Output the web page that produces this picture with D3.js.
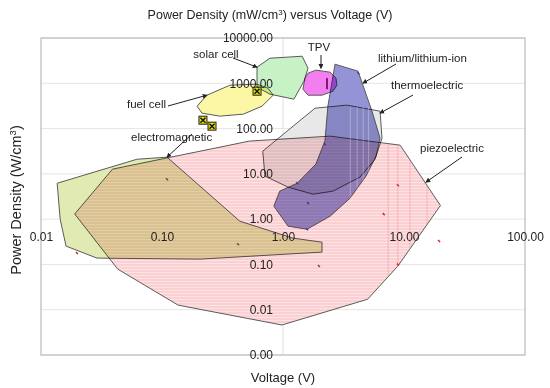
<!DOCTYPE html>
<html>
<head>
<meta charset="utf-8">
<script src="https://cdn.jsdelivr.net/npm/d3@7"></script>
<style>
body { margin: 0; background: #fff; }
text { font-family: "Liberation Sans", Arial, Helvetica, sans-serif; fill: #222; }
</style>
</head>
<body>
<div id="chart"></div>
<script>
// tick values
const xTicks = [0.01, 0.1, 1, 10, 100];
const yTicks = [0.001, 0.01, 0.1, 1, 10, 100, 1000, 10000];

// region outlines, [voltage V, power density]
const piezoelectric = [[0.019,1.3],[0.039,12.7],[0.106,22],[0.53,53],[2.45,68],[9.3,43],[20,2.0],
  [8.9,0.092],[5.0,0.017],[0.98,0.0046],[0.136,0.0126],[0.043,0.079]];
const electromagnetic = [[0.0136,6.2],[0.062,21],[0.11,23.4],[0.44,0.9],[1.21,0.38],[2.1,0.31],
  [2.1,0.187],[0.206,0.131],[0.029,0.138],[0.0161,0.254],[0.0144,1.0]];
const thermoelectric = [[0.68,31.7],[1.84,282],[3.38,329],[6.34,242],[6.58,61],[5.76,21],
  [4.33,8.5],[2.59,4.15],[1.77,3.56],[1.1,5.1],[0.71,8.9]];
const lithium = [[2.69,2640],[4.17,1850],[5.44,242],[6.34,61],[5.87,24.6],[4.85,8.9],[3.58,2.9],
  [2.45,1.16],[1.58,0.6],[1.1,0.7],[0.84,1.94],[0.94,4.15],[1.31,6.2],[1.87,16.4],[2.22,53],[2.35,312]];
const solarCell = [[0.61,2270],[0.78,3580],[1.44,3960],[1.61,2150],[1.49,1110],[1.23,446],[0.78,575],[0.61,820]];
const fuelCell = [[0.235,546],[0.365,908],[0.61,955],[0.75,780],[0.83,546],[0.67,312],[0.47,208],
  [0.30,188],[0.214,219],[0.195,312]];
const tpv = [[1.61,1670],[1.87,1950],[2.45,1760],[2.74,1300],[2.79,908],[2.59,669],[2.1,546],
  [1.61,546],[1.46,741],[1.52,1300]];

// markers
const fuelMarkers = [[0.218,153],[0.259,113],[0.61,669]];
const redPoints = [[8.9,5.6],[6.8,1.29],[19.5,0.33],[8.9,0.1],[0.0198,0.178]];
const darkPoints = [[0.11,7.6],[0.425,0.28],[1.98,0.092]];
const purplePoints = [[1.31,6.2],[1.61,2.26],[1.58,0.6],[2.22,45],[4.2,1670]];
const tpvBar = [[2.31,1300],[2.31,741]];
// faint vertical streaks seen inside the piezo and lithium areas
const piezoStreaks = [7.4, 8.9, 11.2, 15.5];
const lithiumStreaks = [3.6, 4.1, 4.6, 5.1];

const W = 550, H = 388;
const svg = d3.select("#chart").append("svg")
  .attr("width", W).attr("height", H);

const x = d3.scaleLog().domain([0.01, 100]).range([41, 525]);
const y = d3.scaleLog().domain([0.001, 10000]).range([355, 38]);
const fmt = d3.format(".2f");

const defs = svg.append("defs");
const pat = defs.append("pattern").attr("id", "stripes")
  .attr("patternUnits", "userSpaceOnUse").attr("width", 6).attr("height", 3);
pat.append("rect").attr("width", 6).attr("height", 3).attr("fill", "#fbd0d3");
pat.append("rect").attr("y", 2).attr("width", 6).attr("height", 1).attr("fill", "#fde3e4");

defs.append("marker").attr("id", "arr")
  .attr("viewBox", "0 0 6 6").attr("refX", 5).attr("refY", 3)
  .attr("markerWidth", 5).attr("markerHeight", 5).attr("orient", "auto")
  .append("path").attr("d", "M0,0L6,3L0,6Z").attr("fill", "#222");

const line = d3.line().x(d => x(d[0])).y(d => y(d[1])).curve(d3.curveLinearClosed);
defs.append("clipPath").attr("id", "clipPiezo").append("path").attr("d", line(piezoelectric));
defs.append("clipPath").attr("id", "clipLith").append("path").attr("d", line(lithium));

// grid
svg.append("g").selectAll("line").data(yTicks).join("line")
  .attr("x1", 41).attr("x2", 525)
  .attr("y1", d => y(d)).attr("y2", d => y(d))
  .attr("stroke", "#e6e6e6").attr("stroke-width", 1);
svg.append("line")
  .attr("x1", x(1)).attr("x2", x(1)).attr("y1", 38).attr("y2", 355)
  .attr("stroke", "#e0e0e0");

// regions
const regions = [
  {data: piezoelectric, fill: "url(#stripes)"},
  {data: electromagnetic, fill: "#e0eab2"},
  {data: thermoelectric, fill: "#e8e8e8"},
  {data: lithium, fill: "#9393d6"},
  {data: solarCell, fill: "#c6f2c6"},
  {data: fuelCell, fill: "#fbf7a4"},
  {data: tpv, fill: "#f27ef0"}
];
const plot = svg.append("g").style("isolation", "isolate");
plot.selectAll("path.region").data(regions).join("path")
  .attr("class", "region")
  .attr("d", d => line(d.data))
  .attr("fill", d => d.fill)
  .attr("stroke", "#5a5a5a").attr("stroke-width", 1)
  .style("mix-blend-mode", "multiply");

plot.append("g").attr("clip-path", "url(#clipPiezo)")
  .selectAll("line").data(piezoStreaks).join("line")
  .attr("x1", d => x(d)).attr("x2", d => x(d)).attr("y1", 38).attr("y2", 355)
  .attr("stroke", "#f08a92").attr("stroke-opacity", 0.45).attr("stroke-width", 1);
plot.append("g").attr("clip-path", "url(#clipLith)")
  .selectAll("line").data(lithiumStreaks).join("line")
  .attr("x1", d => x(d)).attr("x2", d => x(d)).attr("y1", y(300)).attr("y2", y(1))
  .attr("stroke", "#ffffff").attr("stroke-opacity", 0.3).attr("stroke-width", 1);

plot.append("path")
  .attr("d", d3.line().x(d => x(d[0])).y(d => y(d[1]))(tpvBar))
  .attr("stroke", "#7a1a7a").attr("stroke-width", 2);

// tiny data marks
function marks(pts, col) {
  plot.append("g").selectAll("line").data(pts).join("line")
    .attr("x1", d => x(d[0]) - 1).attr("x2", d => x(d[0]) + 1)
    .attr("y1", d => y(d[1]) - 1).attr("y2", d => y(d[1]) + 1)
    .attr("stroke", col).attr("stroke-width", 1.5);
}
marks(redPoints, "#e0202a");
marks(darkPoints, "#555");
marks(purplePoints, "#4a3a9a");

const fm = plot.append("g").selectAll("g").data(fuelMarkers).join("g")
  .attr("transform", d => `translate(${x(d[0])},${y(d[1])})`);
fm.append("rect").attr("x", -4).attr("y", -4).attr("width", 8).attr("height", 8)
  .attr("fill", "#e4e000").attr("stroke", "#222").attr("stroke-width", 1);
fm.append("path").attr("d", "M-2.5,-2.5L2.5,2.5M2.5,-2.5L-2.5,2.5")
  .attr("stroke", "#111").attr("stroke-width", 1.4);

// frame
svg.append("rect").attr("x", 41).attr("y", 38).attr("width", 484).attr("height", 317)
  .attr("fill", "none").attr("stroke", "#c8c8c8").attr("stroke-width", 1.5);

// axes crossing at (1, 1)
const yAxis = svg.append("g")
  .attr("transform", `translate(${x(1)},0)`)
  .call(d3.axisLeft(y).tickValues(yTicks).tickSize(0).tickPadding(10).tickFormat(fmt));
const xAxis = svg.append("g")
  .attr("transform", `translate(0,${y(1)})`)
  .call(d3.axisBottom(x).tickValues(xTicks).tickSize(0).tickPadding(13).tickFormat(fmt));
[yAxis, xAxis].forEach(a => {
  a.select(".domain").remove();
  a.selectAll("text").attr("font-size", 12).attr("fill", "#222")
    .attr("font-family", "Liberation Sans, Arial, sans-serif");
});

// callouts
const callouts = [
  {text: "solar cell", tx: 216, ty: 54, anchor: "middle", from: [233, 58], to: [0.61, 2270]},
  {text: "TPV", tx: 319, ty: 47, anchor: "middle", from: [321, 55], to: [2.06, 2150]},
  {text: "lithium/lithium-ion", tx: 378, ty: 58, anchor: "start", from: [396, 64], to: [4.58, 1005]},
  {text: "thermoelectric", tx: 391, ty: 85, anchor: "start", from: [413, 95], to: [6.34, 219]},
  {text: "piezoelectric", tx: 420, ty: 148, anchor: "start", from: [462, 157], to: [15.2, 6.56]},
  {text: "fuel cell", tx: 166, ty: 104, anchor: "end", from: [168, 106], to: [0.235, 546]},
  {text: "electromagnetic", tx: 131, ty: 137, anchor: "start", from: [192, 134], to: [0.11, 23.4]}
];
const co = svg.append("g");
co.selectAll("line").data(callouts).join("line")
  .attr("x1", d => d.from[0]).attr("y1", d => d.from[1])
  .attr("x2", d => x(d.to[0])).attr("y2", d => y(d.to[1]))
  .attr("stroke", "#222").attr("stroke-width", 1)
  .attr("marker-end", "url(#arr)");
co.selectAll("text").data(callouts).join("text")
  .attr("x", d => d.tx).attr("y", d => d.ty)
  .attr("dy", "0.35em")
  .attr("text-anchor", d => d.anchor)
  .attr("font-size", 11.5)
  .text(d => d.text);

// titles
const title = svg.append("text").attr("x", 270).attr("y", 19)
  .attr("text-anchor", "middle").attr("font-size", 12.5);
title.append("tspan").text("Power Density (mW/cm");
title.append("tspan").attr("baseline-shift", "super").attr("font-size", 8).text("3");
title.append("tspan").text(") versus Voltage (V)");

svg.append("text").attr("x", 283).attr("y", 382)
  .attr("text-anchor", "middle").attr("font-size", 13).text("Voltage (V)");

const yt = svg.append("text")
  .attr("transform", "translate(21,200) rotate(-90)")
  .attr("text-anchor", "middle").attr("font-size", 14.5);
yt.append("tspan").text("Power Density (W/cm");
yt.append("tspan").attr("baseline-shift", "super").attr("font-size", 9.5).text("3");
yt.append("tspan").text(")");
</script>
</body>
</html>
